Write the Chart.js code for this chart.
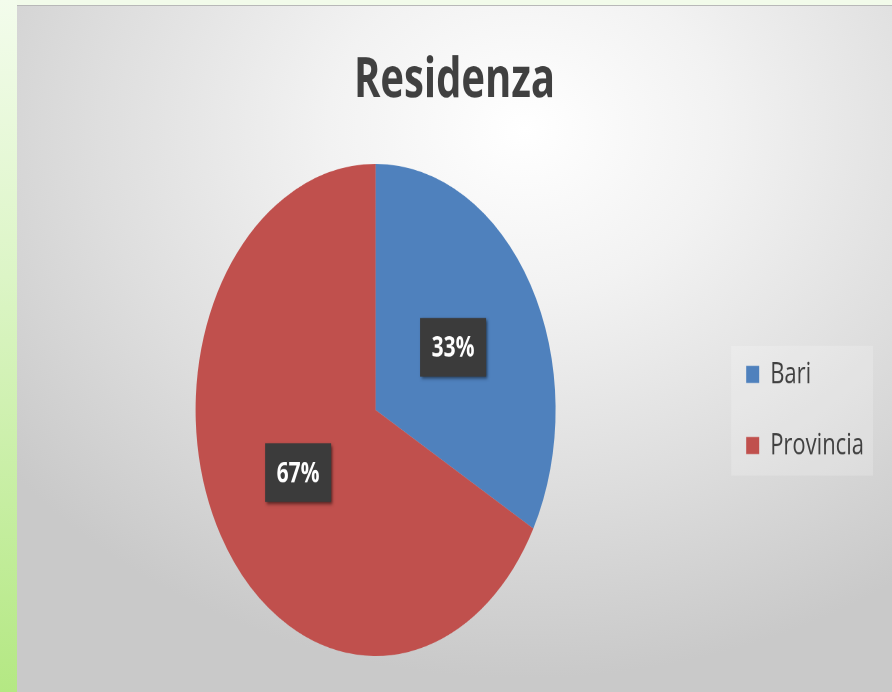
<!DOCTYPE html>
<html>
<head>
<meta charset="utf-8">
<script src="https://cdn.jsdelivr.net/npm/chart.js@4/dist/chart.umd.min.js"></script>
<style>
  html, body { margin: 0; padding: 0; width: 892px; height: 692px; overflow: hidden; background: #f2fbea; }
  #side { position: absolute; left: 0; top: 0; width: 17px; height: 692px;
    background: linear-gradient(to bottom, #f3fcec 0%, #dcf5c6 40%, #b4e883 100%); }
  #panel { position: absolute; left: 17px; top: 5px; width: 875px; height: 687px;
    border-top: 1px solid #b8b8b8; box-sizing: border-box;
    background: radial-gradient(ellipse 75% 80% at 58% 18%, #ffffff 0%, #f2f2f2 30%, #dedede 65%, #c9c9c9 100%); }
  #chart { position: absolute; left: 0; top: 0; transform: scaleY(1.367); transform-origin: 0 0; }
</style>
</head>
<body>
<div id="side"></div>
<div id="panel"><canvas id="chart" width="875" height="503"></canvas></div>
<script>
const labels = ["Bari", "Provincia"];
const values = [33, 67];
const colors = ["#4F81BD", "#C0504D"];

const textColor = "#404040";
const font = "'Open Sans', sans-serif";

// dark label boxes in the middle of each slice
const sliceLabels = {
  id: "sliceLabels",
  afterDatasetsDraw(chart) {
    const ctx = chart.ctx;
    const meta = chart.getDatasetMeta(0);
    const total = values.reduce((a, b) => a + b, 0);
    meta.data.forEach((arc, i) => {
      const { x, y, startAngle, endAngle, outerRadius } = arc.getProps(
        ["x", "y", "startAngle", "endAngle", "outerRadius"], true);
      const mid = (startAngle + endAngle) / 2;
      const cx = x + Math.cos(mid) * outerRadius * 0.5;
      const cy = y + Math.sin(mid) * outerRadius * 0.5;
      const w = 66, h = 43;
      ctx.save();
      ctx.shadowColor = "rgba(0,0,0,0.55)";
      ctx.shadowBlur = 5;
      ctx.shadowOffsetX = 3;
      ctx.shadowOffsetY = 3;
      ctx.fillStyle = "#3b3b3b";
      ctx.fillRect(cx - w / 2, cy - h / 2, w, h);
      ctx.restore();
      ctx.save();
      ctx.fillStyle = "#ffffff";
      ctx.font = "bold 21px " + font;
      ctx.textAlign = "center";
      ctx.textBaseline = "middle";
      ctx.fillText(Math.round(values[i] / total * 100) + "%", cx, cy + 1);
      ctx.restore();
    });
  },
};

// faint box behind the legend
const legendBox = {
  id: "legendBox",
  beforeDraw(chart) {
    const lg = chart.legend;
    if (!lg || !lg.legendHitBoxes.length) return;
    const boxes = lg.legendHitBoxes;
    const first = boxes[0], last = boxes[boxes.length - 1];
    const ctx = chart.ctx;
    ctx.save();
    ctx.fillStyle = "rgba(255,255,255,0.2)";
    ctx.fillRect(first.left - 15, first.top - 10, lg.right - first.left + 14, last.top + last.height + 11 - (first.top - 10));
    ctx.restore();
  },
};

new Chart(document.getElementById("chart"), {
  type: "pie",
  data: {
    labels: labels,
    datasets: [{
      data: values,
      backgroundColor: colors,
      borderWidth: 0,
    }],
  },
  options: {
    responsive: false,
    animation: false,
    devicePixelRatio: 2,
    layout: { padding: { top: 0, left: 18, right: 18, bottom: 27.5 } },
    plugins: {
      title: {
        display: true,
        text: "Residenza",
        color: textColor,
        font: { family: font, size: 40, weight: "bold", lineHeight: 1.2 },
        padding: { top: 31, bottom: 36.5 },
      },
      legend: {
        position: "right",
        fullSize: false,
        labels: {
          color: textColor,
          font: { family: font, size: 22 },
          boxWidth: 13,
          boxHeight: 12.5,
          padding: 30,
        },
      },
      tooltip: { enabled: false },
    },
  },
  plugins: [legendBox, sliceLabels],
});
</script>
</body>
</html>
